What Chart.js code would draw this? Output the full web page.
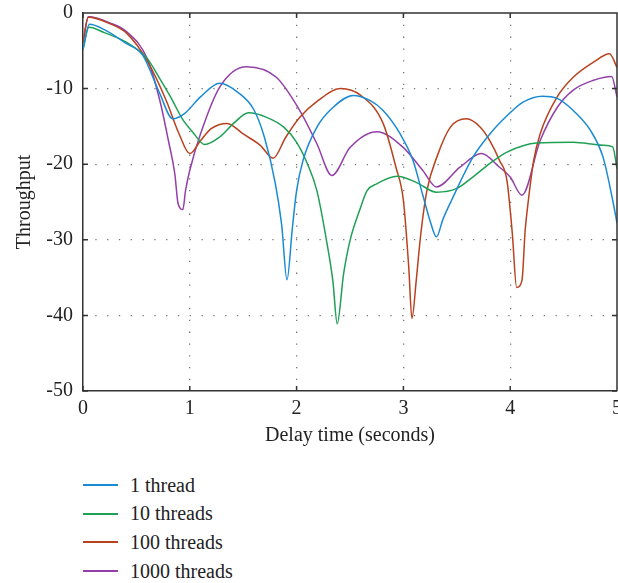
<!DOCTYPE html>
<html>
<head>
<meta charset="utf-8">
<script src="https://cdn.jsdelivr.net/npm/chart.js"></script>
<style>
	html, body { margin: 0; padding: 0; background: #fff; overflow: hidden; }
	#wrap { position: relative; width: 618px; height: 455px; }
	#legend { position: absolute; left: 83px; top: 471px; font-family: "Liberation Serif", serif; font-size: 20px; color: #222; }
	.item { display: flex; align-items: center; height: 28.6px; }
	.swatch { display: inline-block; width: 35px; height: 2px; margin-right: 12px; }
</style>
</head>
<body>
<div id="wrap"><canvas id="chart"></canvas></div>
<div id="legend"></div>
<script>
// Series names
const seriesLabels = ['1 thread', '10 threads', '100 threads', '1000 threads'];

// 1 thread
const x1 = [0, 0.06, 0.2, 0.4, 0.56, 0.72, 0.84, 0.95, 1.1, 1.28, 1.45, 1.6, 1.7, 1.8, 1.86, 1.91, 1.96, 2.0, 2.06, 2.19, 2.34, 2.53, 2.69, 2.81, 2.97, 3.09, 3.18, 3.25, 3.31, 3.37, 3.45, 3.65, 3.81, 3.97, 4.12, 4.3, 4.44, 4.59, 4.75, 4.87, 4.96, 5.0];
const y1 = [-4.8, -1.5, -2.2, -4.0, -5.6, -10.7, -14.0, -13.3, -11.1, -9.3, -10.5, -12.8, -16.5, -22.5, -28, -35.3, -28.5, -23.5, -19.5, -15.1, -12.5, -10.9, -11.6, -12.9, -16.0, -19.5, -24.0, -27.5, -29.6, -27.3, -24.8, -19.1, -16.0, -13.6, -11.8, -11.0, -11.3, -12.9, -15.5, -19.1, -24.8, -27.8];

// 10 threads
const x10 = [0, 0.055, 0.2, 0.41, 0.6, 0.72, 0.82, 0.93, 1.03, 1.14, 1.28, 1.41, 1.55, 1.72, 1.88, 2.0, 2.1, 2.19, 2.28, 2.34, 2.38, 2.44, 2.5, 2.59, 2.66, 2.75, 2.94, 3.12, 3.31, 3.5, 3.65, 3.81, 3.97, 4.25, 4.59, 4.87, 4.96, 5.0];
const y10 = [-4.8, -1.9, -2.6, -3.9, -6.0, -8.7, -11.1, -14.0, -15.8, -17.4, -16.4, -14.6, -13.2, -13.8, -15.1, -17.1, -19.9, -23.5, -30.1, -35.5, -41.1, -34.5, -30.1, -26.1, -23.5, -22.6, -21.6, -22.4, -23.7, -23.2, -21.7, -19.9, -18.4, -17.2, -17.1, -17.5, -17.7, -20.6];

// 100 threads
const x100 = [0, 0.05, 0.25, 0.41, 0.6, 0.78, 0.9, 1.0, 1.1, 1.2, 1.35, 1.5, 1.66, 1.78, 1.9, 2.03, 2.2, 2.41, 2.6, 2.81, 2.93, 3.0, 3.05, 3.08, 3.12, 3.16, 3.22, 3.32, 3.44, 3.59, 3.72, 3.81, 3.9, 3.97, 4.02, 4.06, 4.11, 4.14, 4.17, 4.22, 4.28, 4.44, 4.59, 4.78, 4.93, 5.0];
const y100 = [-3.9, -0.55, -1.4, -2.7, -6.3, -11.6, -16.0, -18.6, -16.9, -15.3, -14.6, -16.0, -17.5, -19.2, -16.4, -13.8, -11.6, -10.0, -10.9, -14.6, -20.4, -24.8, -33.6, -40.4, -35.4, -29.6, -23.5, -18.8, -15.1, -14.0, -15.1, -16.9, -19.5, -22.2, -29.2, -36.3, -35.4, -28.8, -24.8, -19.5, -16.0, -11.1, -8.5, -6.5, -5.4, -7.2];

// 1000 threads
const x1000 = [0, 0.05, 0.25, 0.41, 0.6, 0.72, 0.8, 0.86, 0.89, 0.935, 0.96, 1.0, 1.1, 1.28, 1.53, 1.81, 2.03, 2.19, 2.33, 2.5, 2.75, 3.0, 3.18, 3.31, 3.53, 3.73, 3.9, 4.0, 4.11, 4.28, 4.44, 4.59, 4.78, 4.95, 5.0];
const y1000 = [-3.9, -0.5, -1.3, -2.5, -6.0, -11.6, -16.9, -21.3, -25.2, -26.0, -23.5, -20.8, -16.0, -9.8, -7.1, -8.5, -12.9, -17.3, -21.5, -17.8, -15.7, -17.8, -20.8, -23.0, -20.4, -18.6, -20.4, -21.7, -24.1, -16.9, -12.5, -10.2, -8.9, -8.4, -11.1];

const colors = ['#1a8ad2', '#1fa055', '#b8421e', '#9240a8'];
const font = { family: '"Liberation Serif", serif', size: 20 };

function toPoints(xs, ys) {
	return xs.map((x, i) => ({ x: x, y: ys[i] }));
}

const seriesData = [toPoints(x1, y1), toPoints(x10, y10), toPoints(x100, y100), toPoints(x1000, y1000)];

const datasets = seriesLabels.map((label, i) => ({
	label: label,
	data: seriesData[i],
	borderColor: colors[i],
	borderWidth: 1.5,
	pointRadius: 0,
	cubicInterpolationMode: 'monotone',
	fill: false
}));

// top/right frame and inward tick marks
const framePlugin = {
	id: 'frame',
	afterDraw(chart) {
		const { ctx, chartArea: a, scales } = chart;
		ctx.save();
		ctx.strokeStyle = '#333';
		ctx.lineWidth = 1.5;
		ctx.beginPath();
		ctx.moveTo(a.left, a.top);
		ctx.lineTo(a.right, a.top);
		ctx.lineTo(a.right, a.bottom);
		scales.x.ticks.forEach(t => {
			const px = scales.x.getPixelForValue(t.value);
			ctx.moveTo(px, a.bottom); ctx.lineTo(px, a.bottom - 5);
			ctx.moveTo(px, a.top); ctx.lineTo(px, a.top + 5);
		});
		scales.y.ticks.forEach(t => {
			const py = scales.y.getPixelForValue(t.value);
			ctx.moveTo(a.left, py); ctx.lineTo(a.left + 5, py);
			ctx.moveTo(a.right, py); ctx.lineTo(a.right - 5, py);
		});
		ctx.stroke();
		ctx.restore();
	}
};

const gridColor = (lo, hi) => ctx => (ctx.tick.value === lo || ctx.tick.value === hi) ? 'rgba(0,0,0,0)' : '#777';

const chart = new Chart(document.getElementById('chart'), {
	type: 'line',
	data: { datasets: datasets },
	options: {
		responsive: true,
		maintainAspectRatio: false,
		animation: false,
		layout: { padding: { top: 13, left: 0, right: 1, bottom: 0 } },
		plugins: { legend: { display: false }, tooltip: { enabled: false } },
		scales: {
			x: {
				type: 'linear',
				min: 0,
				max: 5,
				ticks: { stepSize: 1, color: '#222', font: font, padding: 6 },
				grid: { color: gridColor(0, 5), lineWidth: 1.3, drawTicks: false },
				border: { display: true, color: '#333', width: 1.5, dash: [1.3, 10.5] },
				title: { display: true, text: 'Delay time (seconds)', color: '#222', font: font, padding: { top: 4, bottom: 7 } },
				afterFit(scale) {
					scale.height = 64;
					scale.paddingLeft = 0;
					scale.paddingRight = 0;
				}
			},
			y: {
				min: -50,
				max: 0,
				ticks: { stepSize: 10, color: '#222', font: font, padding: 10 },
				grid: { color: gridColor(-50, 0), lineWidth: 1.3, drawTicks: false },
				border: { display: true, color: '#333', width: 1.5, dash: [1.3, 10.5] },
				title: { display: true, text: 'Throughput', color: '#222', font: font, padding: { top: 13, bottom: 0 } },
				afterFit(scale) {
					scale.width = 83;
					scale.paddingTop = 0;
					scale.paddingBottom = 0;
				}
			}
		}
	},
	plugins: [framePlugin]
});

// Legend below the chart, one entry per line
const legend = document.getElementById('legend');
chart.data.datasets.forEach(ds => {
	const item = document.createElement('div');
	item.className = 'item';
	const swatch = document.createElement('span');
	swatch.className = 'swatch';
	swatch.style.background = ds.borderColor;
	const text = document.createElement('span');
	text.textContent = ds.label;
	item.appendChild(swatch);
	item.appendChild(text);
	legend.appendChild(item);
});
</script>
</body>
</html>
